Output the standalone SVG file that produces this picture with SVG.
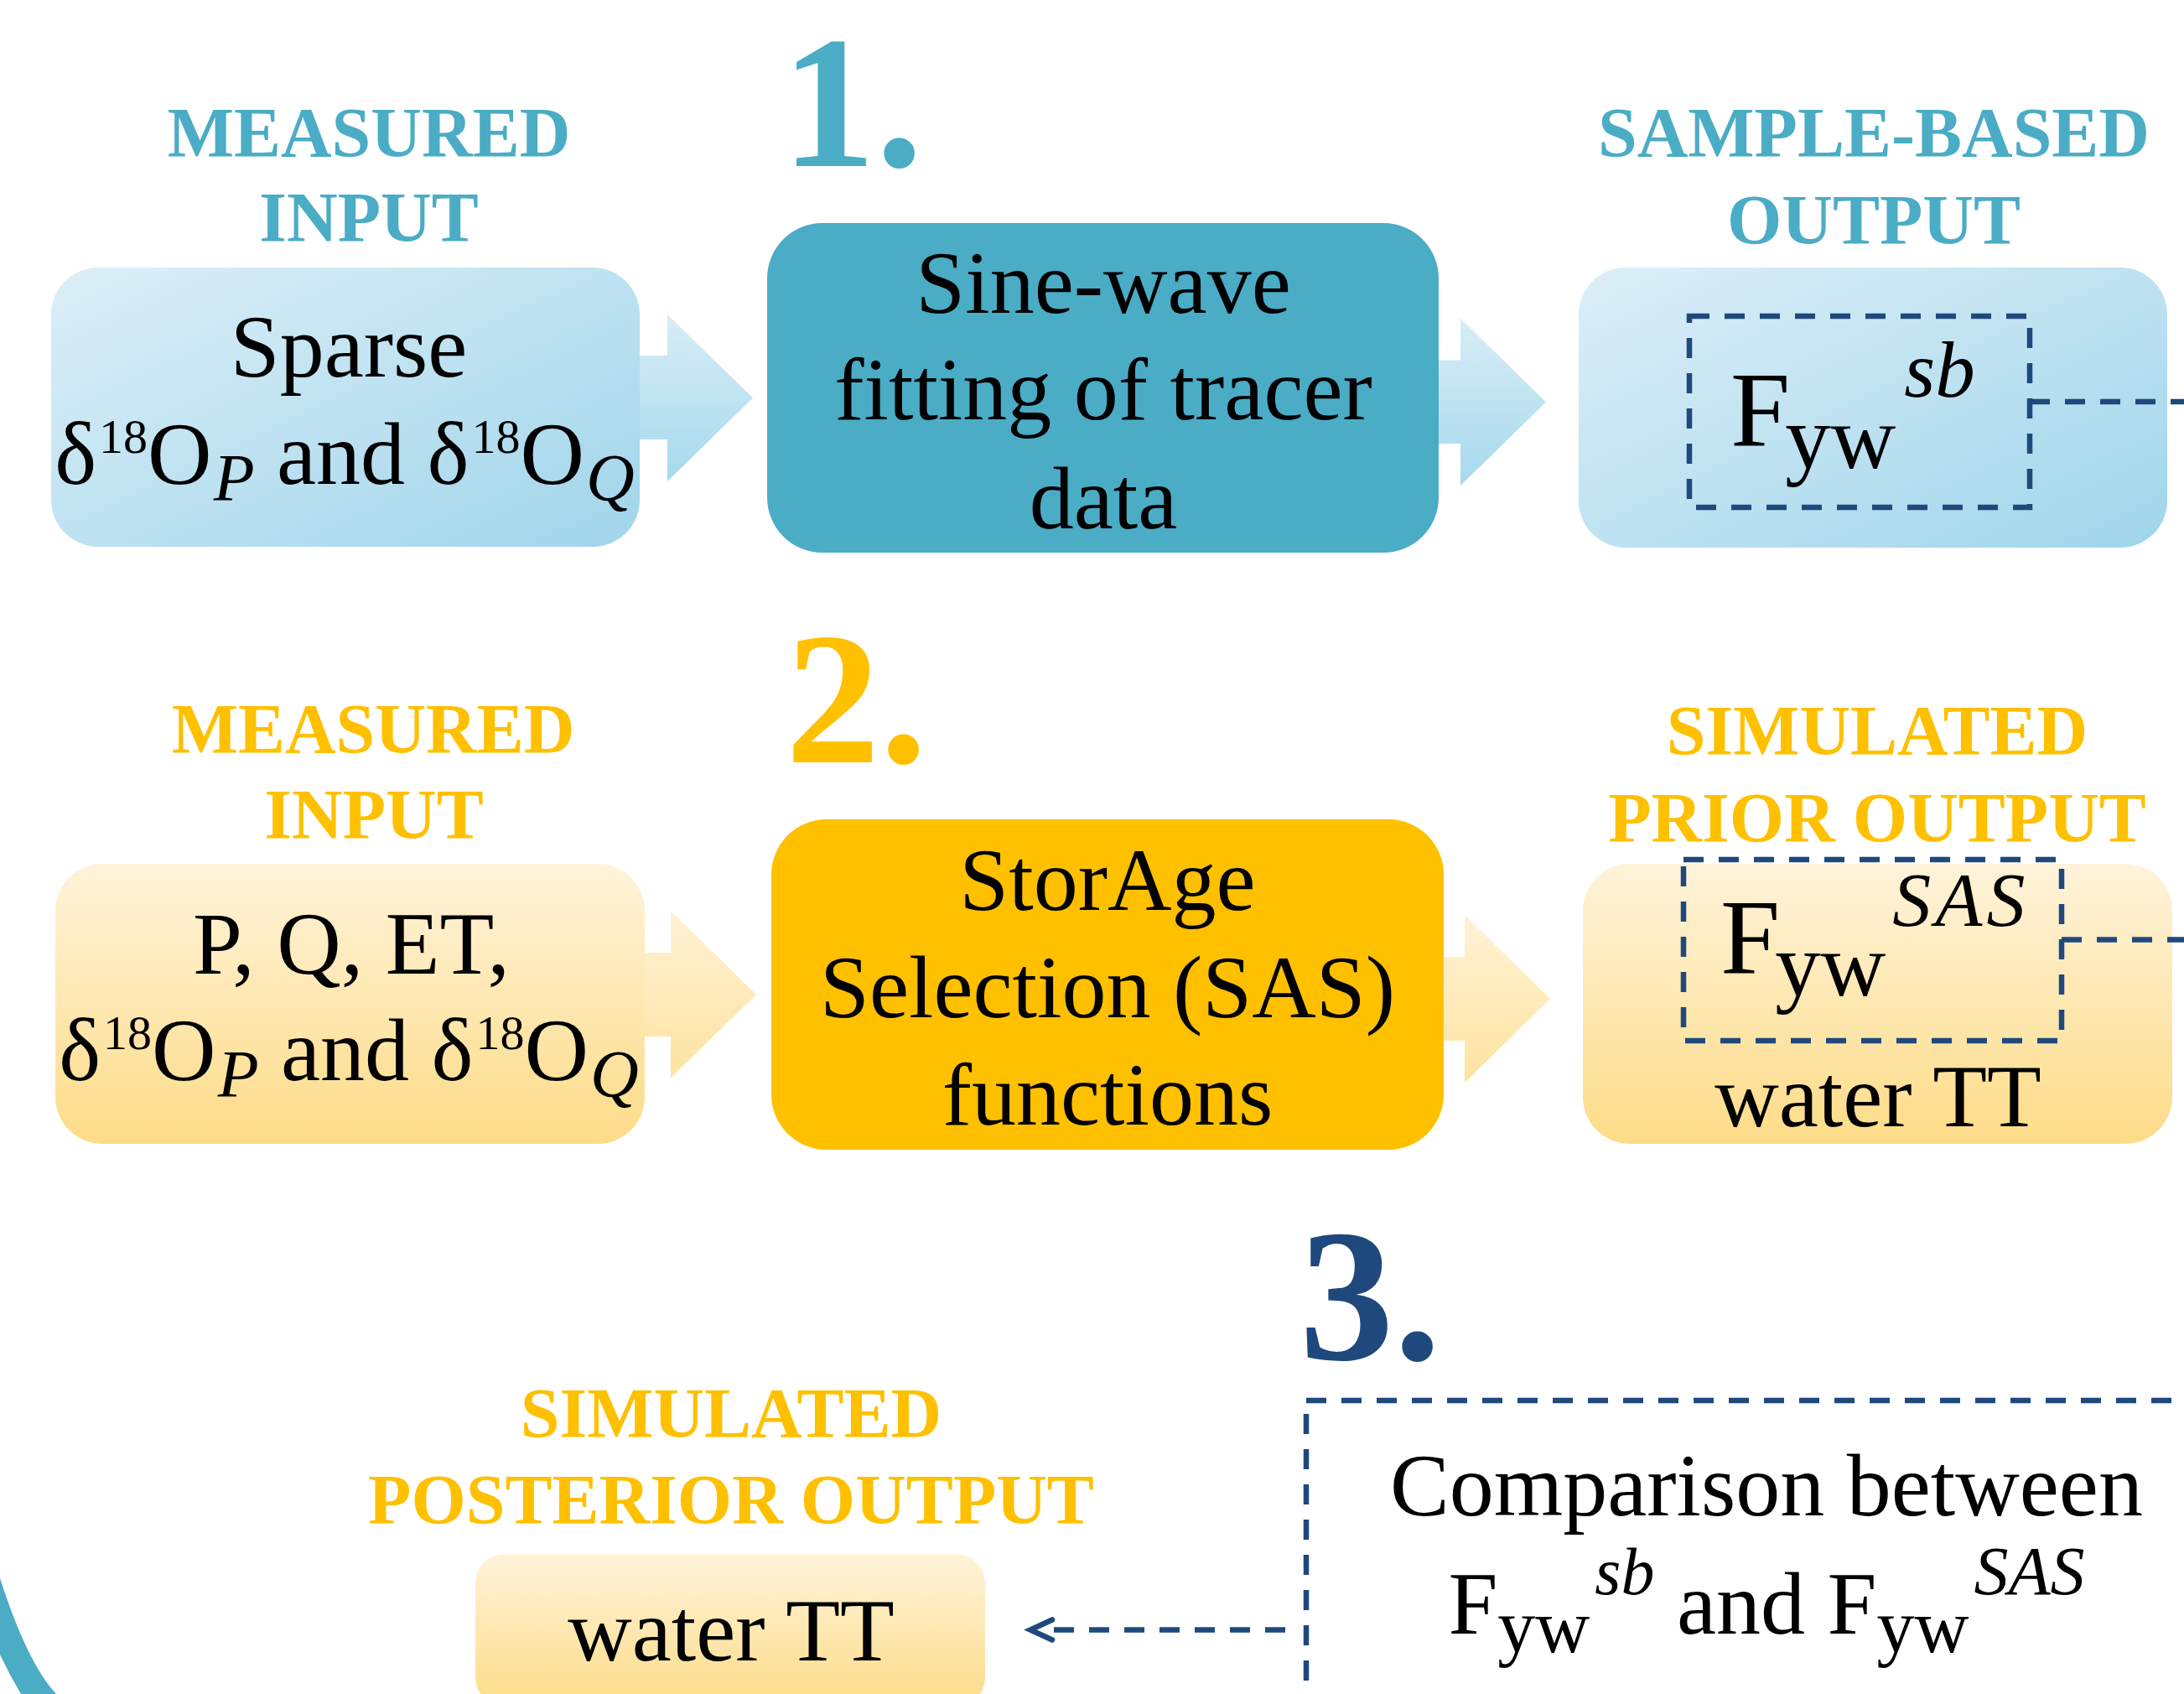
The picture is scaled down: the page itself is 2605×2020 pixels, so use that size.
<svg xmlns="http://www.w3.org/2000/svg" width="2605" height="2020" viewBox="0 0 2605 2020">
<style>
.lbl{font-family:"Liberation Serif","Times New Roman",serif;font-weight:bold;font-size:84px;text-anchor:middle}
.num{font-family:"Liberation Serif","Times New Roman",serif;font-weight:bold;font-size:225px}
.t{font-family:"Liberation Serif","Times New Roman",serif;font-size:106px;fill:#000;text-anchor:middle}
.ts{font-family:"Liberation Serif","Times New Roman",serif;fill:#000}
.it{font-style:italic}
.blue{fill:#4bacc6}
.yel{fill:#ffc000}
.navy{fill:#1f497d}
.dash{fill:none;stroke:#1f497d;stroke-width:6.5;stroke-dasharray:24 18}
</style>
<defs>
<linearGradient id="gBlue" x1="0" y1="0" x2="1" y2="1">
<stop offset="0" stop-color="#ddeff8"/>
<stop offset="1" stop-color="#a0d5eb"/>
</linearGradient>
<linearGradient id="gBlueA" x1="0" y1="0" x2="0" y2="1">
<stop offset="0" stop-color="#d8edf6"/>
<stop offset="1" stop-color="#a6d9ed"/>
</linearGradient>
<linearGradient id="gYel" x1="0" y1="0" x2="0" y2="1">
<stop offset="0" stop-color="#fff3da"/>
<stop offset="1" stop-color="#fddc88"/>
</linearGradient>
<linearGradient id="gYelA" x1="0" y1="0" x2="0" y2="1">
<stop offset="0" stop-color="#fff2d6"/>
<stop offset="1" stop-color="#fee3a0"/>
</linearGradient>
</defs>

<!-- block arrows -->
<g id="block-arrows">
<path d="M755,424 L796,424 L796,375 L898,474.5 L796,574 L796,524 L755,524 Z" fill="url(#gBlueA)"/>
<path d="M1710,429.5 L1742,429.5 L1742,379.5 L1844,479.5 L1742,579 L1742,529 L1710,529 Z" fill="url(#gBlueA)"/>
<path d="M760,1136 L800,1136 L800,1086 L902,1186 L800,1285 L800,1236 L760,1236 Z" fill="url(#gYelA)"/>
<path d="M1715,1141 L1747,1141 L1747,1091 L1849,1191 L1747,1291 L1747,1241 L1715,1241 Z" fill="url(#gYelA)"/>
</g>

<!-- row 1 -->
<g id="label-measured-input-1">
<text class="lbl blue" x="440" y="187">MEASURED</text>
<text class="lbl blue" x="440" y="288">INPUT</text>
</g>
<g id="node-sparse">
<rect x="61" y="319" width="702" height="333" rx="56" fill="url(#gBlue)"/>
<text class="t" x="416" y="449" font-size="105">Sparse</text>
<text class="t" x="411" y="577" font-size="105">δ<tspan font-size="58" dx="3" dy="-37">18</tspan><tspan dy="37">O</tspan><tspan class="it" font-size="80" dx="2" dy="20">P</tspan><tspan dy="-20"> and δ</tspan><tspan font-size="58" dx="3" dy="-37">18</tspan><tspan dy="37">O</tspan><tspan class="it" font-size="80" dx="2" dy="20">Q</tspan></text>
</g>
<g id="step-1">
<text class="num blue" x="932" y="198">1.</text>
</g>
<g id="node-sine-wave">
<rect x="915" y="266" width="801" height="393" rx="66" fill="#4bacc6"/>
<text class="t" x="1316" y="373">Sine-wave</text>
<text class="t" x="1316" y="500">fitting of tracer</text>
<text class="t" x="1316" y="630">data</text>
</g>
<g id="label-sample-based-output">
<text class="lbl blue" x="2235" y="187">SAMPLE-BASED</text>
<text class="lbl blue" x="2235" y="291">OUTPUT</text>
</g>
<g id="node-fyw-sb">
<rect x="1883" y="319" width="702" height="334" rx="56" fill="url(#gBlue)"/>
<rect class="dash" x="2015" y="377" width="406" height="228"/>
<text class="ts" x="2064" y="531" font-size="128">F<tspan font-size="108" dx="-6" dy="27">yw</tspan><tspan class="it" font-size="95" dx="10" dy="-85">sb</tspan></text>
</g>

<!-- row 2 -->
<g id="label-measured-input-2">
<text class="lbl yel" x="445" y="898">MEASURED</text>
<text class="lbl yel" x="446" y="1000">INPUT</text>
</g>
<g id="node-pq-et">
<rect x="66" y="1030" width="703" height="334" rx="56" fill="url(#gYel)"/>
<text class="t" x="419" y="1161" font-size="105">P, Q, ET,</text>
<text class="t" x="416" y="1288" font-size="105">δ<tspan font-size="58" dx="3" dy="-37">18</tspan><tspan dy="37">O</tspan><tspan class="it" font-size="80" dx="2" dy="20">P</tspan><tspan dy="-20"> and δ</tspan><tspan font-size="58" dx="3" dy="-37">18</tspan><tspan dy="37">O</tspan><tspan class="it" font-size="80" dx="2" dy="20">Q</tspan></text>
</g>
<g id="step-2">
<text class="num yel" x="937" y="909">2.</text>
</g>
<g id="node-sas">
<rect x="920" y="977" width="802" height="394" rx="66" fill="#ffc000"/>
<text class="t" x="1321" y="1085">StorAge</text>
<text class="t" x="1321" y="1213">Selection (SAS)</text>
<text class="t" x="1321" y="1341">functions</text>
</g>
<g id="label-simulated-prior-output">
<text class="lbl yel" x="2239" y="900">SIMULATED</text>
<text class="lbl yel" x="2239" y="1004">PRIOR OUTPUT</text>
</g>
<g id="node-fyw-sas">
<rect x="1888" y="1030" width="703" height="334" rx="56" fill="url(#gYel)"/>
<rect class="dash" x="2008" y="1025" width="451" height="216"/>
<text class="ts" x="2052" y="1160" font-size="128">F<tspan font-size="108" dx="-6" dy="27">yw</tspan><tspan class="it" font-size="92" dx="8" dy="-83" letter-spacing="5">SAS</tspan></text>
<text class="t" x="2240" y="1343" font-size="105">water TT</text>
</g>

<!-- row 3 -->
<g id="step-3">
<text class="num navy" x="1550" y="1621">3.</text>
</g>
<g id="node-comparison">
<rect class="dash" x="1558" y="1670" width="1200" height="500"/>
<text class="t" x="2107" y="1807" font-size="107">Comparison between</text>
<text class="t" x="2107" y="1948" font-size="107">F<tspan font-size="90" dy="22">yw</tspan><tspan class="it" font-size="80" dx="6" dy="-69">sb</tspan><tspan dy="47"> and F</tspan><tspan font-size="90" dy="22">yw</tspan><tspan class="it" font-size="82" dx="6" dy="-69">SAS</tspan></text>
</g>
<g id="label-simulated-posterior-output">
<text class="lbl yel" x="872" y="1714">SIMULATED</text>
<text class="lbl yel" x="872" y="1817">POSTERIOR OUTPUT</text>
</g>
<g id="node-water-tt-posterior">
<rect x="567" y="1853" width="608" height="182" rx="35" fill="url(#gYel)"/>
<text class="t" x="872" y="1980" font-size="105">water TT</text>
</g>
<g id="arc">
<path d="M0,1882 Q32.5,1983 67,2020 L25,2020 Q11.5,1997.5 0,1973 Z" fill="#4bacc6"/>
</g>

<!-- connectors -->
<g id="connectors">
<line class="dash" x1="2421" y1="479" x2="2620" y2="479"/>
<line class="dash" x1="2459" y1="1120.5" x2="2620" y2="1120.5"/>
<line class="dash" x1="1533" y1="1943.5" x2="1240" y2="1943.5"/>
<polyline points="1255,1931.5 1229,1943.5 1255,1955.5" fill="none" stroke="#1f497d" stroke-width="6.5" stroke-linecap="round" stroke-linejoin="miter"/>
</g>
</svg>
